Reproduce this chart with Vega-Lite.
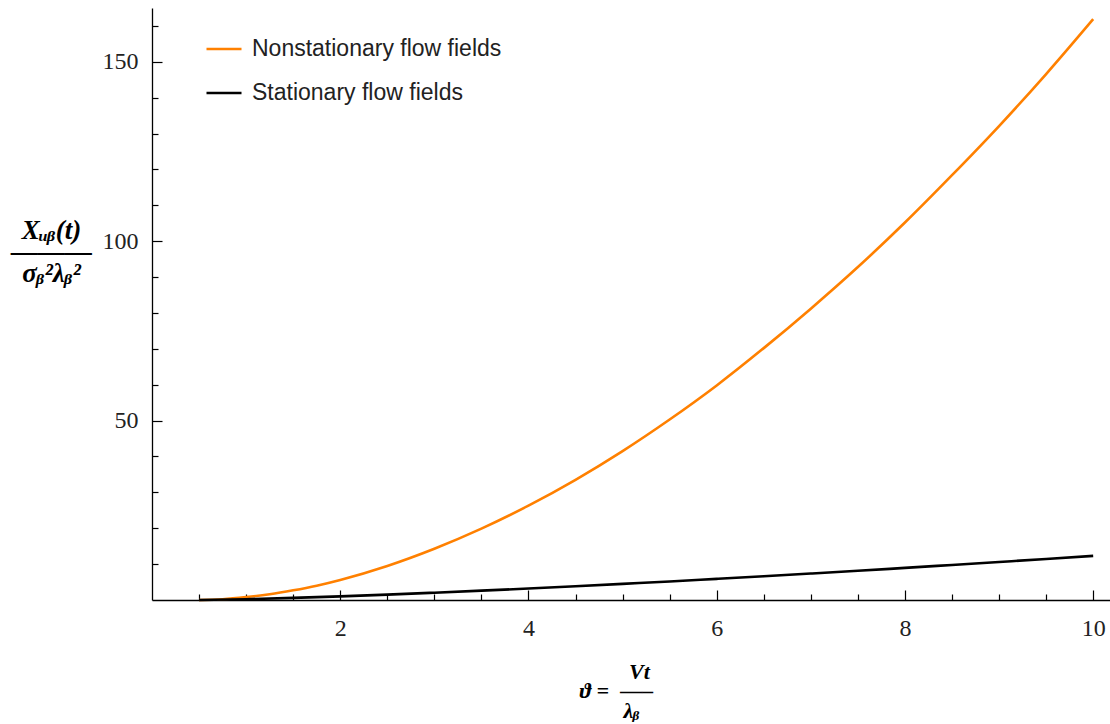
{
  "$schema": "https://vega.github.io/schema/vega-lite/v6.json",
  "autosize": {"type": "none"},
  "padding": {"left": 152, "top": 8, "right": 0, "bottom": 124},
  "width": 960,
  "height": 592,
  "background": "white",
  "config": {"view": {"stroke": null}},
  "data": {"values": [
    {"x": 0.5, "y": 0, "s": "Nonstationary flow fields"},
    {"x": 0.75, "y": 0.22, "s": "Nonstationary flow fields"},
    {"x": 1.0, "y": 0.8, "s": "Nonstationary flow fields"},
    {"x": 1.25, "y": 1.6, "s": "Nonstationary flow fields"},
    {"x": 1.5, "y": 2.7, "s": "Nonstationary flow fields"},
    {"x": 1.75, "y": 4.0, "s": "Nonstationary flow fields"},
    {"x": 2.0, "y": 5.6, "s": "Nonstationary flow fields"},
    {"x": 2.5, "y": 9.5, "s": "Nonstationary flow fields"},
    {"x": 3.0, "y": 14.3, "s": "Nonstationary flow fields"},
    {"x": 3.5, "y": 19.9, "s": "Nonstationary flow fields"},
    {"x": 4.0, "y": 26.3, "s": "Nonstationary flow fields"},
    {"x": 4.5, "y": 33.5, "s": "Nonstationary flow fields"},
    {"x": 5.0, "y": 41.5, "s": "Nonstationary flow fields"},
    {"x": 5.5, "y": 50.3, "s": "Nonstationary flow fields"},
    {"x": 6.0, "y": 59.8, "s": "Nonstationary flow fields"},
    {"x": 6.5, "y": 70.2, "s": "Nonstationary flow fields"},
    {"x": 7.0, "y": 81.2, "s": "Nonstationary flow fields"},
    {"x": 7.5, "y": 92.8, "s": "Nonstationary flow fields"},
    {"x": 8.0, "y": 105.2, "s": "Nonstationary flow fields"},
    {"x": 8.5, "y": 118.4, "s": "Nonstationary flow fields"},
    {"x": 9.0, "y": 132.1, "s": "Nonstationary flow fields"},
    {"x": 9.5, "y": 146.6, "s": "Nonstationary flow fields"},
    {"x": 10.0, "y": 161.9, "s": "Nonstationary flow fields"},
    {"x": 0.5, "y": 0, "s": "Stationary flow fields"},
    {"x": 1.0, "y": 0.23, "s": "Stationary flow fields"},
    {"x": 1.5, "y": 0.59, "s": "Stationary flow fields"},
    {"x": 2.0, "y": 1.02, "s": "Stationary flow fields"},
    {"x": 2.5, "y": 1.5, "s": "Stationary flow fields"},
    {"x": 3.0, "y": 2.03, "s": "Stationary flow fields"},
    {"x": 3.5, "y": 2.6, "s": "Stationary flow fields"},
    {"x": 4.0, "y": 3.2, "s": "Stationary flow fields"},
    {"x": 4.5, "y": 3.83, "s": "Stationary flow fields"},
    {"x": 5.0, "y": 4.49, "s": "Stationary flow fields"},
    {"x": 5.5, "y": 5.17, "s": "Stationary flow fields"},
    {"x": 6.0, "y": 5.89, "s": "Stationary flow fields"},
    {"x": 6.5, "y": 6.62, "s": "Stationary flow fields"},
    {"x": 7.0, "y": 7.37, "s": "Stationary flow fields"},
    {"x": 7.5, "y": 8.14, "s": "Stationary flow fields"},
    {"x": 8.0, "y": 8.95, "s": "Stationary flow fields"},
    {"x": 8.5, "y": 9.77, "s": "Stationary flow fields"},
    {"x": 9.0, "y": 10.6, "s": "Stationary flow fields"},
    {"x": 9.5, "y": 11.43, "s": "Stationary flow fields"},
    {"x": 10.0, "y": 12.3, "s": "Stationary flow fields"}
  ]},
  "mark": {"type": "line", "strokeWidth": 2.6, "interpolate": "monotone"},
  "encoding": {
    "x": {
      "field": "x", "type": "quantitative",
      "scale": {"domain": [0, 10.2], "nice": false, "zero": false},
      "axis": {
        "values": [0.5,1,1.5,2,2.5,3,3.5,4,4.5,5,5.5,6,6.5,7,7.5,8,8.5,9,9.5,10],
        "format": "~g",
        "labelExpr": "datum.value % 2 === 0 ? datum.label : ''",
        "grid": false,
        "domainColor": "#000", "domainWidth": 1.3,
        "tickColor": "#000", "tickWidth": 1.2,
        "tickSize": {"condition": {"test": "datum.value % 2 === 0", "value": -10}, "value": -6},
        "labelFont": "Liberation Serif", "labelFontSize": 24, "labelColor": "#222",
        "labelPadding": 26, "labelFlush": false, "labelOverlap": false,
        "title": ["\u200b\u00a0\u00a0\u00a0\u00a0\u00a0\u00a0\u00a0\u00a0\u00a0Vt", "\u03d1 = \u00a0\u2014\u2013", "\u200b\u00a0\u00a0\u00a0\u00a0\u00a0\u00a0\u00a0\u00a0\u03bb\u1d66"],
        "titleFont": "Liberation Serif", "titleFontSize": 22, "titleFontWeight": "bold", "titleFontStyle": "italic",
        "titleColor": "#000", "titleAlign": "left", "titleAnchor": null,
        "titleX": 427, "titleY": 71, "titleBaseline": "middle", "titleLineHeight": 19.5
      }
    },
    "y": {
      "field": "y", "type": "quantitative",
      "scale": {"domain": [0, 165], "nice": false},
      "axis": {
        "values": [10,20,30,40,50,60,70,80,90,100,110,120,130,140,150,160],
        "labelExpr": "datum.value % 50 === 0 ? datum.label : ''",
        "grid": false,
        "domainColor": "#000", "domainWidth": 1.3,
        "tickColor": "#000", "tickWidth": 1.2,
        "tickSize": {"condition": {"test": "datum.value % 50 === 0", "value": -10}, "value": -6},
        "labelFont": "Liberation Serif", "labelFontSize": 24, "labelColor": "#222",
        "labelPadding": 24, "labelFlush": false, "labelOverlap": false,
        "title": ["X\u1d64\u1d66(t)", "\u2014\u2014\u2014", "\u03c3\u1d66\u00b2\u03bb\u1d66\u00b2"],
        "titleFont": "Liberation Serif", "titleFontSize": 27, "titleFontWeight": "bold", "titleFontStyle": "italic",
        "titleColor": "#000", "titleAngle": 0, "titleAlign": "center", "titleAnchor": null,
        "titleX": -101, "titleY": 222, "titleBaseline": "middle", "titleLineHeight": 21.5
      }
    },
    "color": {
      "field": "s", "type": "nominal",
      "scale": {"domain": ["Nonstationary flow fields", "Stationary flow fields"], "range": ["#ff8000", "#000000"]},
      "legend": {
        "orient": "none", "legendX": 53, "legendY": 22, "title": null,
        "symbolType": "stroke", "symbolSize": 1225, "symbolStrokeWidth": 2.6,
        "labelFont": "Liberation Sans", "labelFontSize": 23, "labelColor": "#222", "labelLimit": 400,
        "labelOffset": 9, "rowPadding": 13
      }
    }
  }
}
